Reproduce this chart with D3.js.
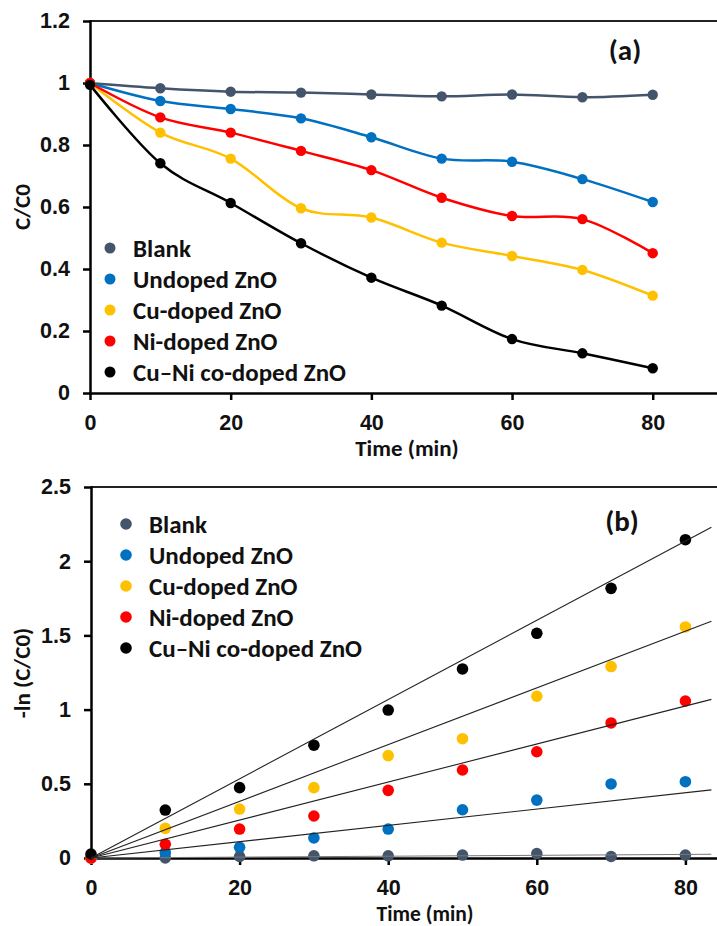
<!DOCTYPE html>
<html lang="en">
<head>
    <meta charset="UTF-8">
    <title>Photocatalytic degradation - C/C0 and kinetics</title>
    <script src="https://d3js.org/d3.v7.min.js"></script>
    <style>
        body {
            margin: 0;
            background: #fff;
        }
        svg {
            display: block;
            font-family: Carlito, Calibri, Lato, "Open Sans", sans-serif;
            font-weight: bold;
        }
        .tick text {
            font-size: 21.5px;
            fill: #111;
        }
        .legend text {
            font-size: 25px;
            fill: #111;
        }
        .axis-title {
            font-size: 23px;
            fill: #111;
        }
        .panel-tag {
            font-size: 29px;
            fill: #111;
        }
    </style>
</head>
<body>
    <div id="chart"></div>

    <script>
        // sampling times (min)
        const times = [0, 10, 20, 30, 40, 50, 60, 70, 80];

        const seriesNames = ["Blank", "Undoped ZnO", "Cu-doped ZnO", "Ni-doped ZnO", "Cu\u2013Ni co-doped ZnO"];
        const seriesColors = ["#44546A", "#0070C0", "#FFC000", "#FF0000", "#000000"];

        // panel (a): C/C0
        const blankC = [1.0, 0.983, 0.972, 0.969, 0.963, 0.957, 0.963, 0.954, 0.962];
        const undopedC = [1.0, 0.942, 0.916, 0.886, 0.825, 0.756, 0.746, 0.690, 0.616];
        const cuDopedC = [1.0, 0.840, 0.756, 0.596, 0.566, 0.485, 0.442, 0.397, 0.314];
        const niDopedC = [1.0, 0.889, 0.840, 0.781, 0.719, 0.630, 0.571, 0.561, 0.451];
        const cuNiC = [0.994, 0.741, 0.613, 0.483, 0.372, 0.282, 0.174, 0.128, 0.080];

        // panel (b): -ln(C/C0)
        const blankLn = [0.0, 0.0, 0.01, 0.015, 0.015, 0.02, 0.03, 0.01, 0.02];
        const undopedLn = [0.0, 0.036, 0.072, 0.135, 0.195, 0.325, 0.39, 0.499, 0.514];
        const cuDopedLn = [0.0, 0.2, 0.33, 0.474, 0.69, 0.804, 1.09, 1.29, 1.557];
        const niDopedLn = [0.0, 0.092, 0.195, 0.283, 0.456, 0.593, 0.716, 0.91, 1.058];
        const cuNiLn = [0.027, 0.323, 0.474, 0.76, 0.997, 1.274, 1.514, 1.817, 2.145];

        // linear trend lines (slope, through origin), drawn up to trendEnd
        const trendSlopes = [0.0003, 0.0055, 0.0128, 0.0191, 0.0267];
        const trendEnd = 83.5;

        const yTicksA = [0, 0.2, 0.4, 0.6, 0.8, 1, 1.2];
        const yTicksB = [0, 0.5, 1, 1.5, 2, 2.5];
        const xTicks = [0, 20, 40, 60, 80];

        const dataA = [blankC, undopedC, cuDopedC, niDopedC, cuNiC];
        const dataB = [blankLn, undopedLn, cuDopedLn, niDopedLn, cuNiLn];

        const width = 717, height = 926;
        const svg = d3.select("#chart").append("svg")
            .attr("width", width)
            .attr("height", height);

        svg.append("rect").attr("width", width).attr("height", height).attr("fill", "#fff");

        const fmt = d => String(+d.toFixed(1));

        function drawFrame(g, x, y, yTicks, opts) {
            // top border of the plot area (right side is cut off)
            g.append("line")
                .attr("x1", x.range()[0]).attr("x2", width + 5)
                .attr("y1", y.range()[1]).attr("y2", y.range()[1])
                .attr("stroke", "#222").attr("stroke-width", 2);

            const yAxis = g.append("g")
                .attr("transform", `translate(${x.range()[0]},0)`)
                .call(d3.axisLeft(y).tickValues(yTicks).tickFormat(fmt)
                    .tickSizeInner(7).tickSizeOuter(0).tickPadding(13));
            yAxis.select(".domain").attr("stroke", "#000").attr("stroke-width", 2.5);
            yAxis.selectAll(".tick line").attr("stroke", "#000").attr("stroke-width", 2.5);

            const xAxis = g.append("g")
                .attr("transform", `translate(0,${y.range()[0]})`)
                .call(d3.axisBottom(x).tickValues(xTicks).tickFormat(fmt)
                    .tickSizeInner(7).tickSizeOuter(0).tickPadding(15));
            xAxis.select(".domain").attr("stroke", "#000").attr("stroke-width", 2.5);
            xAxis.selectAll(".tick line").attr("stroke", "#000").attr("stroke-width", 2.5);
            g.selectAll(".tick text").attr("font-family", null).attr("font-size", null);
            g.selectAll(".domain").attr("stroke-linecap", "square");

            g.append("text").attr("class", "axis-title")
                .attr("x", opts.xTitleX).attr("y", opts.xTitleY)
                .attr("text-anchor", "middle")
                .style("font-size", opts.xTitleSize)
                .text("Time (min)");

            g.append("text").attr("class", "axis-title")
                .attr("transform", `translate(${opts.yTitleX},${opts.yTitleY}) rotate(-90)`)
                .attr("text-anchor", "middle")
                .attr("dominant-baseline", "central")
                .text(opts.yTitle);

            g.append("text").attr("class", "panel-tag")
                .attr("x", opts.tagX).attr("y", opts.tagY)
                .attr("text-anchor", "middle")
                .attr("dominant-baseline", "central")
                .text(opts.tag);
        }

        function drawLegend(g, x0, y0, r) {
            const leg = g.append("g").attr("class", "legend");
            seriesNames.forEach((name, i) => {
                const row = leg.append("g").attr("transform", `translate(${x0},${y0 + i * 31})`);
                row.append("circle").attr("r", r).attr("fill", seriesColors[i]);
                row.append("text").attr("x", 23).attr("dy", "0.35em").text(name);
            });
        }

        // ---------- panel (a) ----------
        const gA = svg.append("g");
        const xA = d3.scaleLinear().domain([0, 90]).range([90, 90 + 90 * 7.034]);
        const yA = d3.scaleLinear().domain([0, 1.2]).range([393, 21]);

        drawFrame(gA, xA, yA, yTicksA, {
            xTitleX: 407, xTitleY: 456, xTitleSize: "23px",
            yTitleX: 22, yTitleY: 207, yTitle: "C/C0",
            tagX: 625, tagY: 50, tag: "(a)"
        });

        const lineA = d3.line()
            .x((d, i) => xA(times[i]))
            .y(d => yA(d))
            .curve(d3.curveCatmullRom.alpha(0));

        dataA.forEach((vals, s) => {
            gA.append("path")
                .attr("d", lineA(vals))
                .attr("fill", "none")
                .attr("stroke", seriesColors[s])
                .attr("stroke-width", 2.5);
            gA.selectAll(null).data(vals).enter().append("circle")
                .attr("cx", (d, i) => xA(times[i]))
                .attr("cy", d => yA(d))
                .attr("r", 5.2)
                .attr("fill", seriesColors[s]);
        });

        drawLegend(gA, 110, 248, 5.5);

        // ---------- panel (b) ----------
        const gB = svg.append("g");
        const xB = d3.scaleLinear().domain([0, 90]).range([91, 91 + 90 * 7.43]);
        const yB = d3.scaleLinear().domain([0, 2.5]).range([858, 487]);

        drawFrame(gB, xB, yB, yTicksB, {
            xTitleX: 425, xTitleY: 921, xTitleSize: "21.5px",
            yTitleX: 22, yTitleY: 673, yTitle: "-ln (C/C0)",
            tagX: 622, tagY: 521, tag: "(b)"
        });

        dataB.forEach((vals, s) => {
            gB.selectAll(null).data(vals).enter().append("circle")
                .attr("cx", (d, i) => xB(times[i]))
                .attr("cy", d => yB(d))
                .attr("r", 5.8)
                .attr("fill", seriesColors[s]);
        });

        trendSlopes.forEach((k, s) => {
            gB.append("line")
                .attr("x1", xB(0)).attr("y1", yB(0))
                .attr("x2", xB(trendEnd)).attr("y2", yB(k * trendEnd))
                .attr("stroke", s === 0 ? "#777" : "#222")
                .attr("stroke-width", 1.1);
        });

        drawLegend(gB, 126, 524, 5.8);
    </script>
</body>
</html>
